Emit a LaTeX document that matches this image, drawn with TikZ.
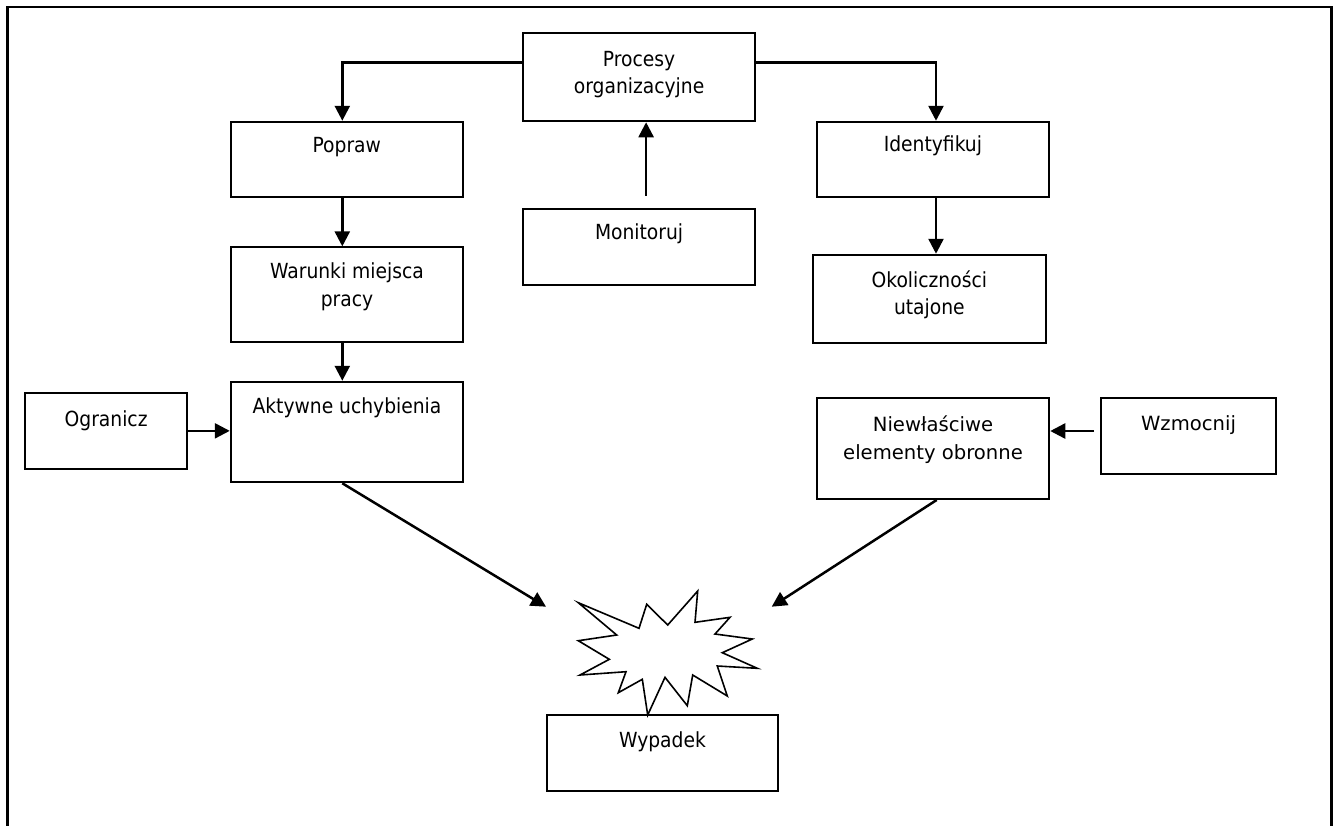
\documentclass[tikz,border=0pt]{standalone}
\usepackage{fontspec}
\usetikzlibrary{arrows.meta}
\newfontfamily\tahfont{DejaVu Sans Condensed}
\newfontfamily\verfont{DejaVu Sans}
\newcommand\tahtxt{\tahfont\fontsize{20.8}{27.7}\selectfont}
\newcommand\vertxt{\verfont\fontsize{19.6}{27.7}\selectfont}

\begin{document}
\begin{tikzpicture}[x=1pt,y=-1pt,
  box/.style={draw, rectangle, line width=1.9pt, inner sep=0pt},
  lab/.style={inner sep=0pt, align=center, anchor=north, font=\tahtxt},
  vlab/.style={lab, font=\vertxt},
  arr/.style={line width=2.5pt, -{Triangle[length=15pt,width=15pt]}}]
\useasboundingbox (0,0) rectangle (1337,825);
% outer frame (open at the bottom edge of the page)
\draw[line width=2.2pt] (7.5,860) -- (7.5,7.3) -- (1331.5,7.3) -- (1331.5,860);

% boxes
\node[box, minimum width=232.6pt, minimum height=88pt,
  label={[lab,yshift=-18.4pt]north:{Procesy\\organizacyjne}}] (proc) at (639.1,77.3) {};
\node[box, minimum width=232.3pt, minimum height=75.6pt,
  label={[lab,yshift=-16.3pt]north:{Popraw}}] (pop) at (346.85,159.5) {};
\node[box, minimum width=232.6pt, minimum height=76pt,
  label={[lab,yshift=-15pt]north:{Monitoruj}}] (mon) at (639.1,247) {};
\node[box, minimum width=232.2pt, minimum height=75.3pt,
  label={[lab,yshift=-15pt]north:{Identyfikuj}}] (idf) at (932.9,159.35) {};
\node[box, minimum width=232.6pt, minimum height=94.4pt,
  label={[lab,yshift=-16pt]north:{Warunki miejsca\\pracy}}] (war) at (347,294.5) {};
\node[box, minimum width=232.7pt, minimum height=88pt,
  label={[lab,yshift=-16.4pt]north:{Okoliczności\\utajone}}] (oko) at (929.35,298.7) {};
\node[box, minimum width=232.6pt, minimum height=100.6pt,
  label={[lab,yshift=-16.3pt]north:{Aktywne uchybienia}}] (akt) at (347,432) {};
\node[box, minimum width=162.3pt, minimum height=76.3pt,
  label={[lab,yshift=-19pt]north:{Ogranicz}}] (ogr) at (106.15,430.85) {};
\node[box, minimum width=232.6pt, minimum height=101pt,
  label={[vlab,yshift=-18.8pt]north:{Niewłaściwe\\elementy obronne}}] (nie) at (933,448.5) {};
\node[box, minimum width=175pt, minimum height=76pt,
  label={[vlab,yshift=-18pt]north:{Wzmocnij}}] (wzm) at (1188.5,436) {};
\node[box, minimum width=231.6pt, minimum height=75.7pt,
  label={[lab,yshift=-17.7pt]north:{Wypadek}}] (wyp) at (662.5,752.85) {};

% burst above the accident box
\draw[line width=1.6pt, line join=miter]
  (578.3,602.7) -- (639,628.3) -- (646.7,604.3) -- (667.7,625) -- (697.7,591)
  -- (695,622.3) -- (730,617.3) -- (715,634) -- (752.3,639) -- (722.3,652.7)
  -- (757.3,668.3) -- (717.3,666) -- (727.3,696) -- (692.7,675) -- (687.3,705.7)
  -- (665,677.3) -- (647.7,715) -- (642.3,679.3) -- (618.3,692.7) -- (626,671.7)
  -- (580,675) -- (609.3,659.3) -- (578.3,640.7) -- (616.7,635) -- cycle;

% connectors
\draw[arr] ([yshift=15pt]proc.west) -| ([xshift=-4.55pt]pop.north);
\draw[arr] ([yshift=15pt]proc.east) -| ([xshift=3.1pt]idf.north);
\draw[arr] ([xshift=7pt,yshift=12.3pt]mon.north) coordinate (m0) -- (m0 |- proc.south);
\draw[arr] ([xshift=-4.55pt]pop.south) coordinate (p0) -- (p0 |- war.north);
\draw[arr] ([xshift=-4.7pt]war.south) coordinate (w1) -- (w1 |- akt.north);
\draw[arr] ([xshift=3.1pt]idf.south) coordinate (i0) -- (i0 |- oko.north);
\draw[arr] (ogr.east) -- (ogr.east -| akt.west);
\draw[arr] ([xshift=-6pt,yshift=5pt]wzm.west) coordinate (z0) -- (z0 -| nie.east);
\coordinate (tipL) at (546,606.7);
\coordinate (tipR) at (771.7,606.7);
\draw[arr] ([xshift=-4.7pt]akt.south) -- (tipL);
\draw[arr] ([xshift=3.7pt]nie.south) -- (tipR);
\end{tikzpicture}
\end{document}
